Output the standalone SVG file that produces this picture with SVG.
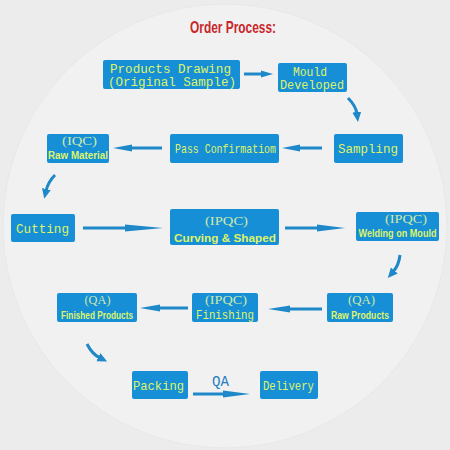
<svg xmlns="http://www.w3.org/2000/svg" width="450" height="450" viewBox="0 0 450 450">
<defs>
<style>
.box{fill:#168fd6;}
.t{font-family:"Liberation Mono","DejaVu Sans Mono",monospace;font-size:13.5px;fill:#dff36a;}
.t2{font-family:"Liberation Mono","DejaVu Sans Mono",monospace;font-size:12.5px;fill:#dff36a;}
.tn{font-family:"Liberation Sans Narrow","Liberation Sans",sans-serif;font-size:11.5px;fill:#dff36a;font-weight:bold;}
.tp{font-family:"Liberation Serif",serif;font-size:12px;fill:#cfe9a8;}
.sh{stroke:#1e88c8;stroke-width:3;fill:none;}
.hd{fill:#1e88c8;}
</style>
<marker id="ah" viewBox="0 -5 10 10" refX="2" refY="0" markerWidth="10" markerHeight="10" markerUnits="userSpaceOnUse" orient="auto">
<path d="M0,-4.5 L10,0 L0,4.5 z" fill="#1e88c8"/>
</marker>
</defs>
<rect width="450" height="450" fill="#ececec"/>
<circle cx="225" cy="226" r="222" fill="#f1f1f1" stroke="#e8e8e8" stroke-width="1"/>
<text x="233" y="33" text-anchor="middle" font-family="Liberation Sans Narrow,Liberation Sans,sans-serif" font-weight="bold" font-size="17" fill="#c8262a" textLength="86" lengthAdjust="spacingAndGlyphs">Order Process:</text>

<g id="connectors">
<line class="sh" x1="244" y1="74" x2="263" y2="74"/><polygon class="hd" points="261,70.5 273,74 261,77.5"/>
<path class="sh" d="M348,98 Q356,106 357,114" marker-end="url(#ah)"/>
<line class="sh" x1="322" y1="148" x2="298" y2="148"/><polygon class="hd" points="300,144.5 282,148 300,151.5"/>
<line class="sh" x1="162" y1="148" x2="130" y2="148"/><polygon class="hd" points="132,144.5 113,148 132,151.5"/>
<path class="sh" d="M55,175 Q48,182 46,191" marker-end="url(#ah)"/>
<line class="sh" x1="83" y1="228" x2="127" y2="228"/><polygon class="hd" points="125,224.5 163,228 125,231.5"/>
<line class="sh" x1="285" y1="228" x2="319" y2="228"/><polygon class="hd" points="317,224.5 345,228 317,231.5"/>
<path class="sh" d="M400,255 Q399,265 393,272" marker-end="url(#ah)"/>
<line class="sh" x1="322" y1="309" x2="288" y2="309"/><polygon class="hd" points="290,305.5 268,309 290,312.5"/>
<line class="sh" x1="188" y1="308" x2="158" y2="308"/><polygon class="hd" points="160,304.5 140,308 160,311.5"/>
<path class="sh" d="M87,344 Q92,354 100,358" marker-end="url(#ah)"/>
<line class="sh" x1="193" y1="394" x2="225" y2="394"/><polygon class="hd" points="223,390.5 250,394 223,397.5"/>
<text x="220.5" y="386" text-anchor="middle" font-family="Liberation Mono,DejaVu Sans Mono,monospace" font-size="14" fill="#1e7fc0" textLength="17" lengthAdjust="spacingAndGlyphs">QA</text>
</g>

<g id="products-drawing"><rect class="box" x="103" y="60" width="137" height="29" rx="2"/>
<text class="t2" x="110" y="73" textLength="121" lengthAdjust="spacingAndGlyphs">Products Drawing</text>
<text class="t2" x="108" y="86" textLength="128" lengthAdjust="spacingAndGlyphs">(Original Sample)</text></g>

<g id="mould-developed"><rect class="box" x="278" y="63" width="69" height="29" rx="2"/>
<text class="t2" x="310" y="75.5" text-anchor="middle" textLength="34" lengthAdjust="spacingAndGlyphs">Mould</text>
<text class="t2" x="312" y="89" text-anchor="middle" textLength="64" lengthAdjust="spacingAndGlyphs">Developed</text></g>

<g id="sampling"><rect class="box" x="334" y="134" width="69" height="29" rx="2"/>
<text class="t" x="368" y="153" text-anchor="middle" textLength="60" lengthAdjust="spacingAndGlyphs">Sampling</text></g>

<g id="pass-confirmation"><rect class="box" x="170" y="134" width="109" height="29" rx="2"/>
<text class="t" x="225.5" y="153" text-anchor="middle" textLength="101" lengthAdjust="spacingAndGlyphs">Pass Confirmatiom</text></g>

<g id="iqc-raw-material"><rect class="box" x="47" y="134" width="62" height="29" rx="2"/>
<text class="tp" x="79.5" y="145" text-anchor="middle" textLength="35" lengthAdjust="spacingAndGlyphs">(IQC)</text>
<text class="tn" x="78" y="158.5" text-anchor="middle" textLength="60" lengthAdjust="spacingAndGlyphs">Raw Material</text></g>

<g id="cutting"><rect class="box" x="11" y="214" width="64" height="28" rx="2"/>
<text class="t" x="42.5" y="233" text-anchor="middle" textLength="53" lengthAdjust="spacingAndGlyphs">Cutting</text></g>

<g id="curving-shaped"><rect class="box" x="170" y="209" width="109" height="36" rx="2"/>
<text class="tp" x="226.5" y="224.5" text-anchor="middle" font-size="16" textLength="43" lengthAdjust="spacingAndGlyphs">(IPQC)</text>
<text class="tn" x="225" y="242" text-anchor="middle" font-size="16" font-weight="normal" textLength="102" lengthAdjust="spacingAndGlyphs">Curving &amp; Shaped</text></g>

<g id="ipqc-welding"><rect class="box" x="356" y="212" width="83" height="29" rx="2"/>
<text class="tp" x="406" y="223" text-anchor="middle" textLength="42" lengthAdjust="spacingAndGlyphs">(IPQC)</text>
<text class="tn" x="397.5" y="236.5" text-anchor="middle" textLength="78" lengthAdjust="spacingAndGlyphs">Welding on Mould</text></g>

<g id="qa-raw-products"><rect class="box" x="327" y="293" width="66" height="29" rx="2"/>
<text class="tp" x="361.5" y="304" text-anchor="middle" textLength="27" lengthAdjust="spacingAndGlyphs">(QA)</text>
<text class="tn" x="360" y="318.5" text-anchor="middle" font-weight="normal" textLength="58" lengthAdjust="spacingAndGlyphs">Raw Products</text></g>

<g id="ipqc-finishing"><rect class="box" x="192" y="293" width="66" height="29" rx="2"/>
<text class="tp" x="226" y="304" text-anchor="middle" textLength="42" lengthAdjust="spacingAndGlyphs">(IPQC)</text>
<text class="t2" x="225" y="318.5" text-anchor="middle" textLength="58" lengthAdjust="spacingAndGlyphs">Finishing</text></g>

<g id="qa-finished-products"><rect class="box" x="57" y="293" width="80" height="29" rx="2"/>
<text class="tp" x="97.5" y="304" text-anchor="middle" textLength="26" lengthAdjust="spacingAndGlyphs">(QA)</text>
<text class="tn" x="97" y="318.5" text-anchor="middle" font-weight="normal" textLength="72" lengthAdjust="spacingAndGlyphs">Finished Products</text></g>

<g id="packing"><rect class="box" x="132" y="371" width="56" height="28" rx="2"/>
<text class="t" x="158.5" y="390" text-anchor="middle" textLength="51" lengthAdjust="spacingAndGlyphs">Packing</text></g>

<g id="delivery"><rect class="box" x="260" y="371" width="58" height="28" rx="2"/>
<text class="t" x="288.5" y="389.5" text-anchor="middle" textLength="51" lengthAdjust="spacingAndGlyphs">Delivery</text></g>
</svg>
